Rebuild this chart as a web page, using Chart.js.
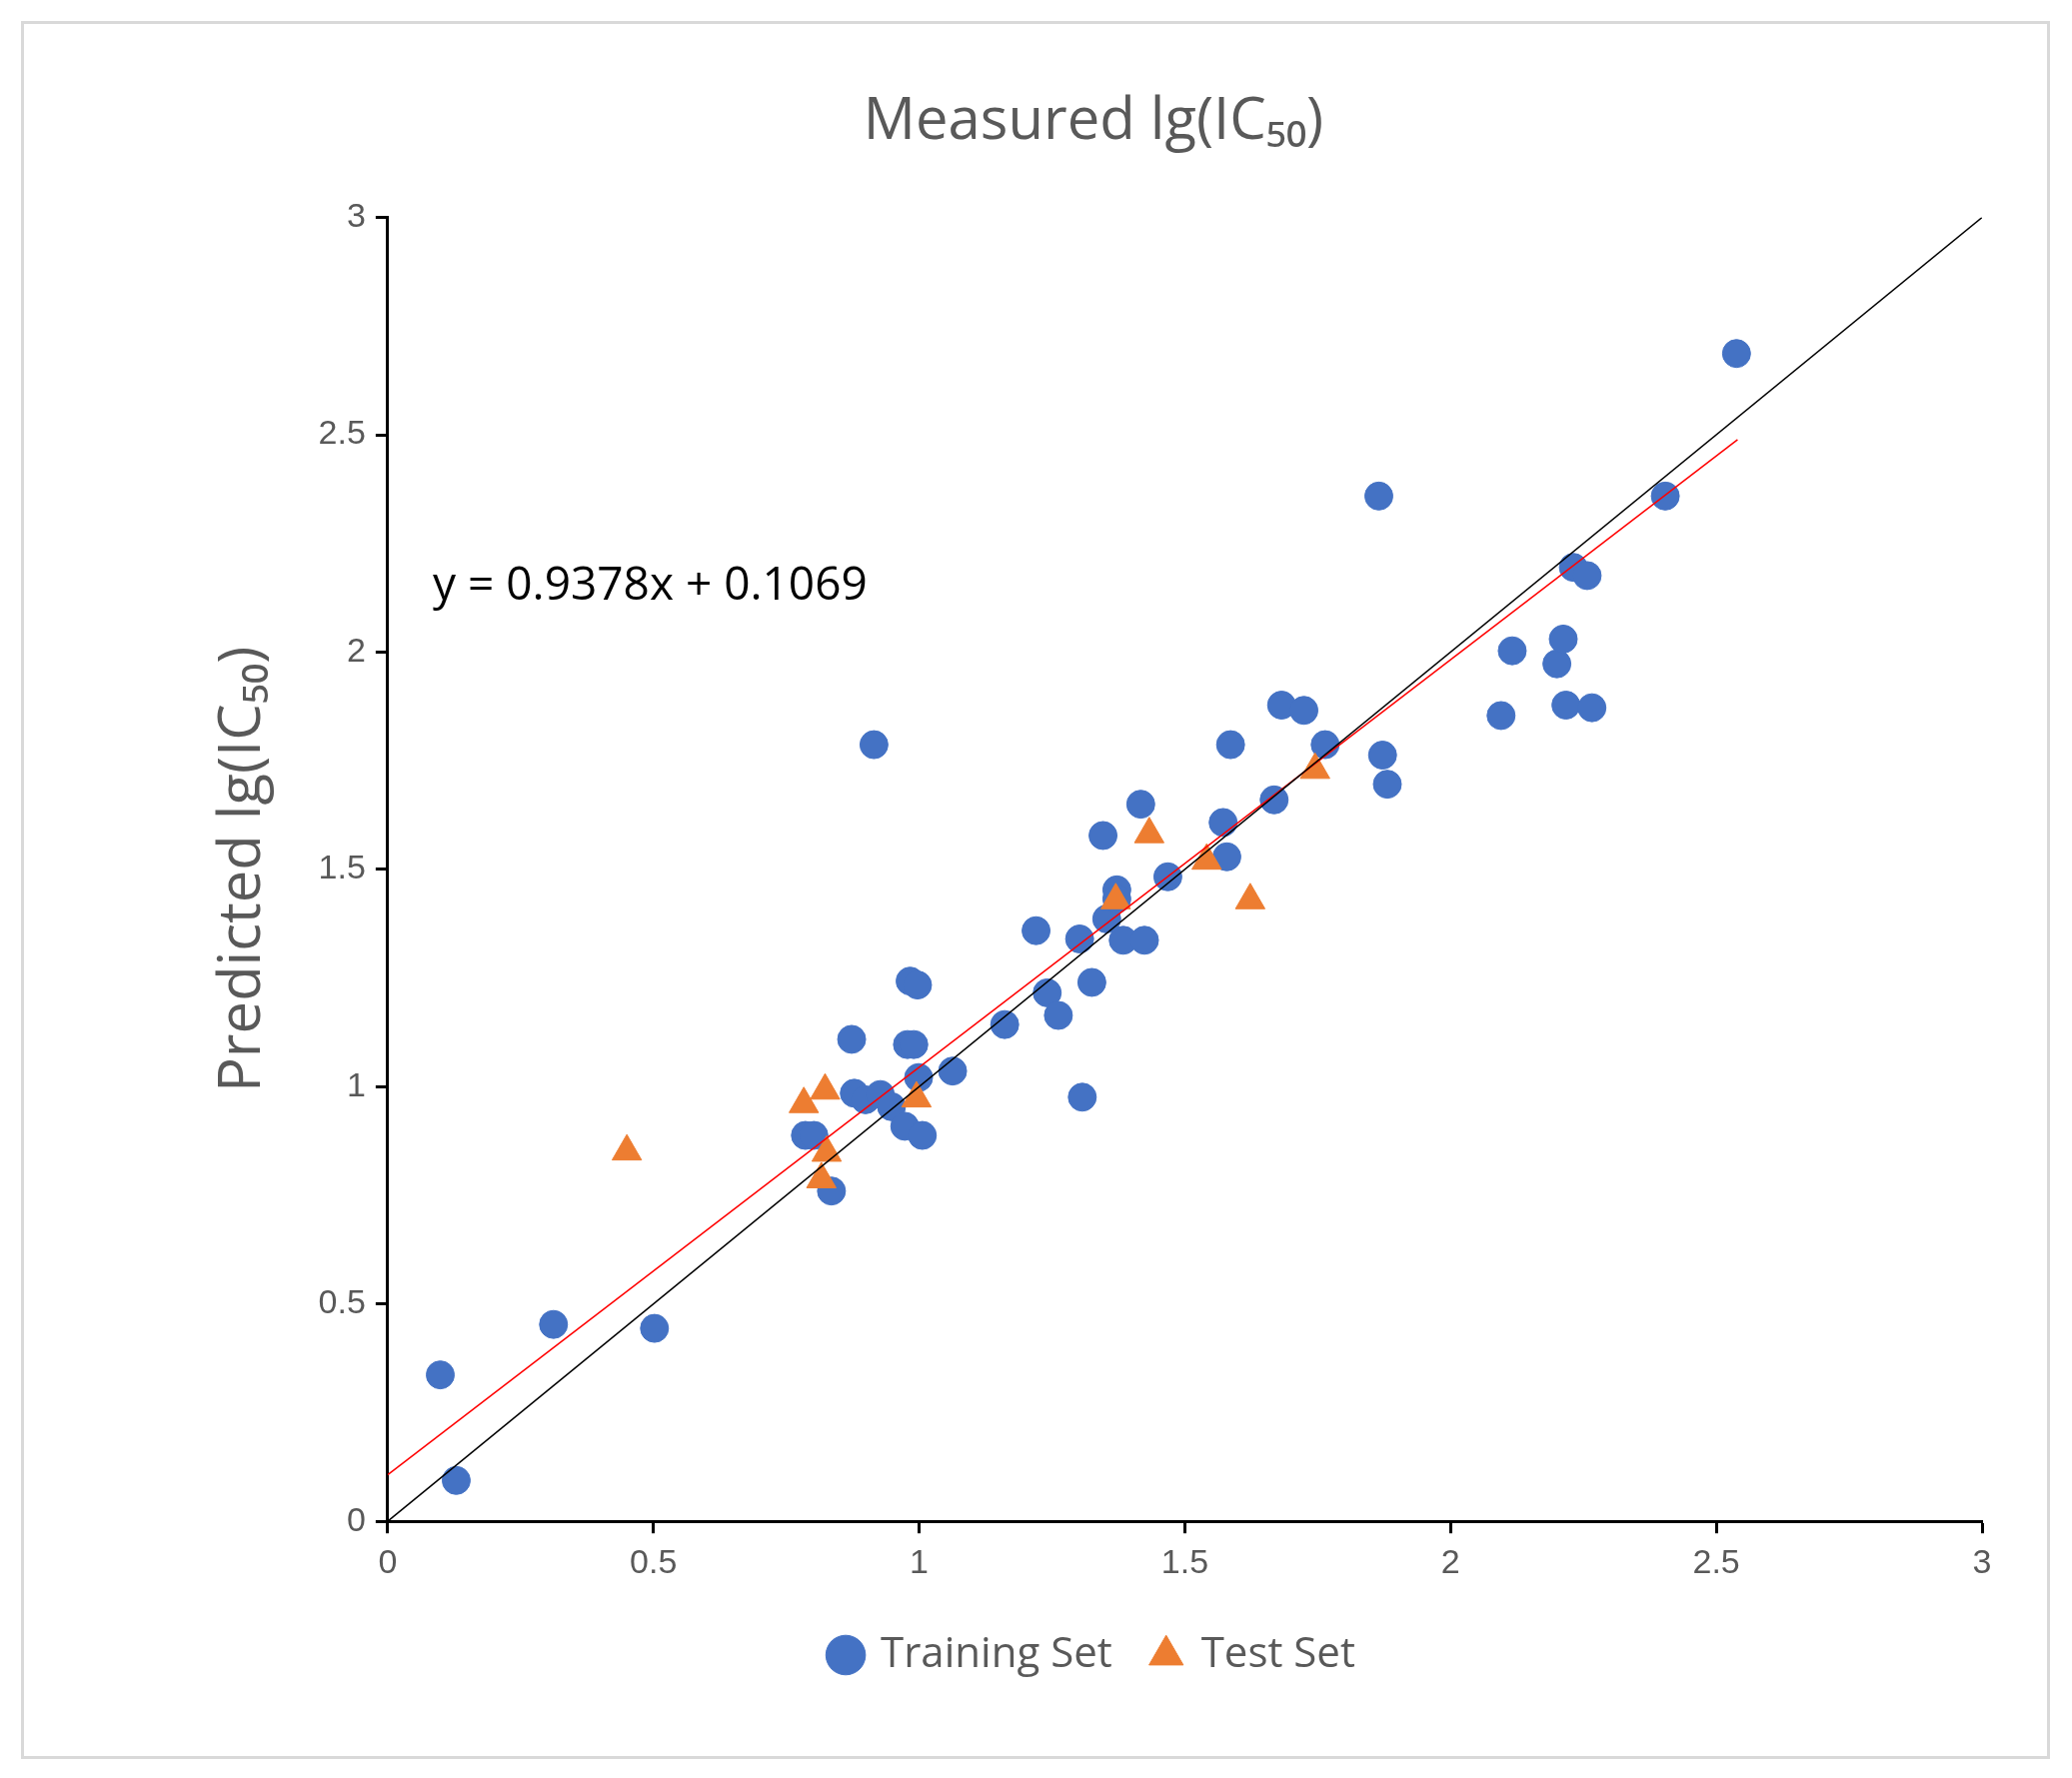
<!DOCTYPE html>
<html><head><meta charset="utf-8">
<script src="https://cdn.jsdelivr.net/npm/chart.js@4/dist/chart.umd.min.js"></script>
<style>body{margin:0;background:#fff}#wrap{position:absolute;left:21px;top:21px;width:2030px;height:1739px;border:3px solid #d9d9d9;box-sizing:border-box}canvas{position:absolute;left:0;top:0}</style>
</head><body>
<div id="wrap"></div>
<canvas id="c" width="2073" height="1779"></canvas>
<script>
const trainX=[0.099,0.129,0.312,0.502,0.835,0.786,0.802,0.873,0.878,0.899,0.927,0.915,0.948,0.973,1.006,0.999,0.983,0.997,0.978,0.990,1.063,1.161,1.220,1.241,1.262,1.302,1.307,1.325,1.346,1.353,1.372,1.372,1.384,1.424,1.417,1.468,1.572,1.579,1.586,1.668,1.682,1.724,1.764,1.865,1.872,1.881,2.095,2.116,2.200,2.212,2.217,2.231,2.257,2.266,2.404,2.538];
const trainY=[0.337,0.094,0.453,0.444,0.760,0.888,0.888,1.109,0.985,0.970,0.982,1.787,0.954,0.909,0.888,1.021,1.243,1.234,1.097,1.097,1.036,1.143,1.359,1.216,1.164,1.340,0.976,1.240,1.578,1.386,1.453,1.432,1.337,1.337,1.650,1.483,1.608,1.529,1.787,1.660,1.878,1.866,1.787,2.359,1.763,1.696,1.854,2.003,1.973,2.030,1.878,2.195,2.176,1.872,2.359,2.687];
const testX=[0.450,0.783,0.823,0.826,0.816,0.995,1.370,1.433,1.541,1.623,1.745];
const testY=[0.851,0.960,0.991,0.848,0.787,0.973,1.429,1.581,1.520,1.429,1.729];
const slope=0.9378, intercept=0.1069, fitEndX=2.54;
const equation='y = 0.9378x + 0.1069';
const gray='#595959';
const ptsOf=(xs,ys)=>xs.map((x,i)=>({x,y:ys[i]}));
const eqPlugin={id:'eq',afterDraw(ch){const c=ch.ctx,xs=ch.scales.x,ys=ch.scales.y;c.save();c.font='46px "Open Sans", Calibri, sans-serif';c.fillStyle='#000';c.textBaseline='middle';c.fillText(equation,xs.getPixelForValue(0.085),ys.getPixelForValue(2.15));c.restore();}};
const fmt=v=>String(v);
new Chart(document.getElementById('c'),{
 type:'scatter',
 data:{datasets:[
  {label:'Training Set',data:ptsOf(trainX,trainY),backgroundColor:'#4472C4',borderColor:'#4472C4',pointRadius:14,pointStyle:'circle',order:2},
  {label:'Test Set',data:ptsOf(testX,testY),backgroundColor:'#ED7D31',borderColor:'#ED7D31',pointRadius:17,pointStyle:'triangle',order:1},
  {label:'y=x',data:[{x:0,y:0},{x:3,y:3}],showLine:true,borderColor:'#000',borderWidth:1.5,pointRadius:0,order:0},
  {label:'fit',data:[{x:0,y:intercept},{x:fitEndX,y:slope*fitEndX+intercept}],showLine:true,borderColor:'#FF0000',borderWidth:1.5,pointRadius:0,order:0}
 ]},
 options:{responsive:false,devicePixelRatio:1,animation:false,
  layout:{padding:{left:205,right:90,top:78,bottom:92}},
  plugins:{
   title:{display:true,text:'Measured lg(IC₅₀)',color:gray,font:{size:58,weight:'normal',family:'"Open Sans", sans-serif'},padding:{top:10,bottom:60}},
   legend:{position:'bottom',labels:{filter:i=>i.datasetIndex<2,sort:(a,b)=>a.datasetIndex-b.datasetIndex,usePointStyle:true,color:gray,font:{size:42,family:'"Open Sans", sans-serif'},boxWidth:28,boxHeight:28,padding:40},onClick:null},
   tooltip:{enabled:false}
  },
  scales:{
   x:{type:'linear',min:0,max:3,ticks:{stepSize:0.5,callback:fmt,color:gray,font:{size:34},padding:10},grid:{display:true,drawOnChartArea:false,tickLength:12,tickColor:'#000',tickWidth:3},border:{color:'#000',width:3}},
   y:{type:'linear',min:0,max:3,ticks:{stepSize:0.5,callback:fmt,color:gray,font:{size:34},padding:10},grid:{display:true,drawOnChartArea:false,tickLength:12,tickColor:'#000',tickWidth:3},border:{color:'#000',width:3},
      title:{display:true,text:'Predicted lg(IC₅₀)',color:gray,font:{size:58,family:'"Open Sans", sans-serif'},padding:{bottom:30}}}
  }
 },plugins:[eqPlugin]});
</script>
</body></html>
